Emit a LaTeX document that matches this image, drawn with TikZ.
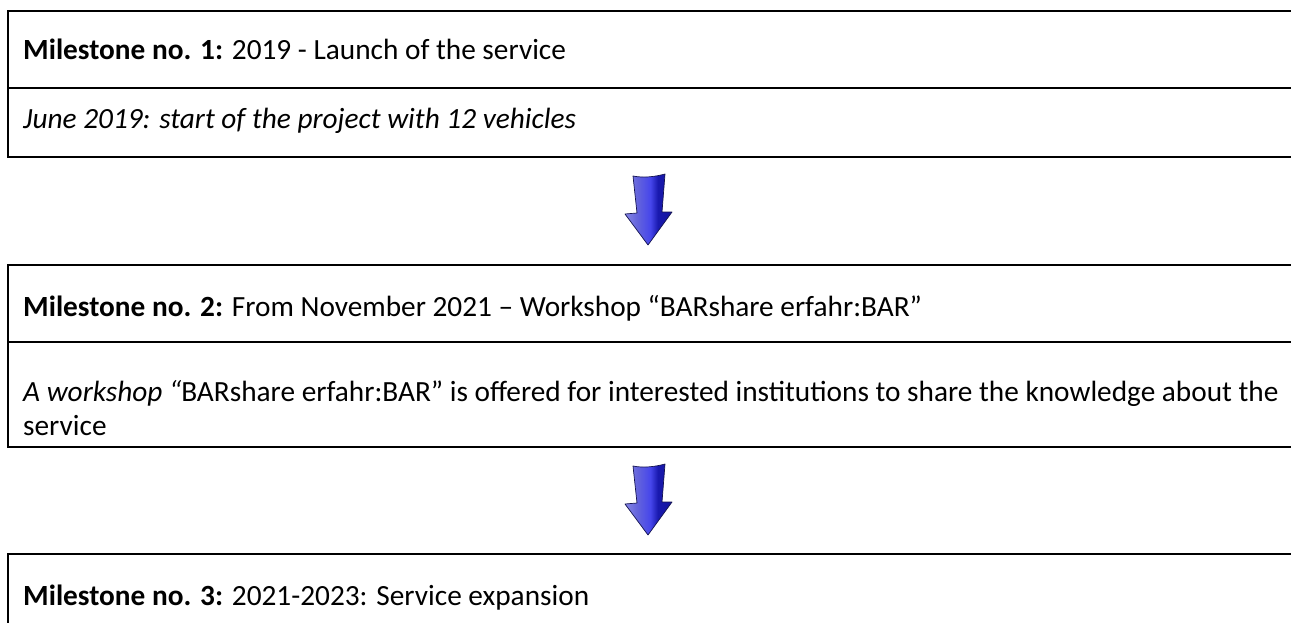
\documentclass[tikz,border=0pt]{standalone}
\usepackage{fontspec}
\setmainfont{Carlito}
\definecolor{arrowlight}{RGB}{200,200,248}
\definecolor{arrowmid}{RGB}{100,100,220}
\definecolor{arrowhi}{RGB}{70,70,235}
\definecolor{arrowdark}{RGB}{25,25,175}
\definecolor{arrowdeep}{RGB}{15,15,130}
\definecolor{arrowedge}{RGB}{20,20,80}
\pgfdeclarehorizontalshading{arrowshade}{100bp}{%
  color(0bp)=(arrowlight); color(38bp)=(arrowmid); color(52bp)=(arrowhi);
  color(60bp)=(arrowdark); color(100bp)=(arrowdeep)}
\begin{document}
\begin{tikzpicture}[x=1pt, y=-1pt,
  rule/.style={line width=2.6pt, line join=miter},
  txt/.style={anchor=base west, inner sep=0pt, font=\fontsize{29.3}{35}\selectfont},
  downarrow/.pic={
    \shade[shading=arrowshade, draw=arrowedge, line width=0.7pt, line join=round]
      (-15,-34) .. controls (-5,-32) and (6,-33) .. (17,-36)
      -- (14,2) -- (24,2) -- (0,35) -- (-23,4) -- (-11,3) -- cycle;
  }]
\useasboundingbox (0,0) rectangle (1291,623);

% milestone 1
\draw[rule] (1291,11) -- (8,11) -- (8,157) -- (1291,157);
\draw[rule] (8,88) -- (1291,88);
\node[txt] (m1head) at (23,60) {\textbf{Milestone no. 1:} 2019 - Launch of the service};
\node[txt] (m1body) at (23,129) {\textit{June 2019: start of the project with 12 vehicles}};

% arrow between milestones 1 and 2
\pic (arrowA) at (648,210) {downarrow};

% milestone 2
\draw[rule] (1291,265) -- (8,265) -- (8,447) -- (1291,447);
\draw[rule] (8,342) -- (1291,342);
\node[txt] (m2head) at (23,316) {\textbf{Milestone no. 2:} From November 2021 – Workshop “BARshare erfahr:BAR”};
\node[txt] (m2body) at (23,401) {\textit{A workshop “}BARshare erfahr:BAR” is offered for interested institutions to share the knowledge about the};
\node[txt] (m2bodyb) at (23,435) {service};

% arrow between milestones 2 and 3
\pic (arrowB) at (648,500) {downarrow};

% milestone 3
\draw[rule] (1291,554) -- (8,554) -- (8,630);
\node[txt] (m3head) at (23,605) {\textbf{Milestone no. 3:} 2021-2023: Service expansion};
\end{tikzpicture}
\end{document}
